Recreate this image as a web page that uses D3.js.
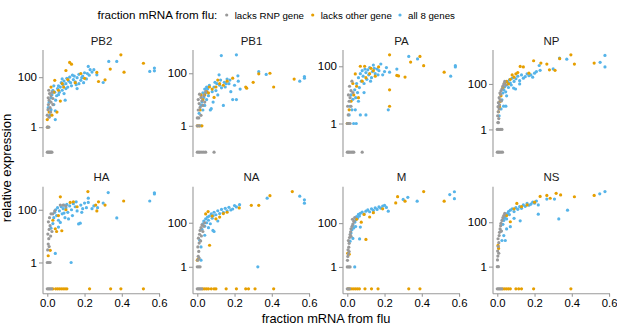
<!DOCTYPE html>
<html><head><meta charset="utf-8">
<script src="https://cdn.jsdelivr.net/npm/d3@7"></script>
<style>body{margin:0;background:#fff}svg{display:block;font-family:"Liberation Sans",Arial,sans-serif}</style>
</head><body><svg id="c" width="617" height="324"></svg>
<script>
const genes = ["PB2","PB1","PA","NP","HA","NA","M","NS"];
const groups = ["lacks RNP gene","lacks other gene","all 8 genes"];
const xTicks = [0.0,0.2,0.4,0.6];
const yTicks = [1,100];

// PB2
const pb2R=[[0,0.1],[0.005,0.1],[0.01,0.1],[0.015,0.1],[0.02,0.1],[0.025,0.1],[0,1],[0.008,1],[0,3],[0.004,5],[0.01,2.5],[0.006,8],[0.015,6],[0.01,12],[0.02,10],[0.005,15],[0.02,18],[0.012,22],[0.025,25],[0.03,8],[0.018,4],[0.008,30],[0.03,14]];
const pb2O=[[0,2],[0.002,1],[0.01,4],[0.025,3],[0.052,4],[0.07,11],[0.088,40],[0.04,75],[0.1,185],[0.12,390],[0.13,330],[0.06,30],[0.08,55],[0.15,60],[0.266,155],[0.275,67],[0.31,78],[0.338,210],[0.395,780],[0.412,158],[0.516,360],[0.02,40],[0.035,25],[0.11,80],[0.18,140],[0.2,90]];
const pb2A=[[0.005,6],[0.01,10],[0.015,3],[0.02,15],[0.025,20],[0.03,30],[0.035,8],[0.04,25],[0.043,2],[0.043,4.5],[0.05,18],[0.055,35],[0.06,45],[0.07,40],[0.075,60],[0.08,30],[0.085,50],[0.09,70],[0.096,12],[0.1,55],[0.105,90],[0.11,40],[0.115,70],[0.12,100],[0.125,60],[0.13,45],[0.14,80],[0.145,110],[0.15,65],[0.16,95],[0.17,130],[0.18,75],[0.19,110],[0.2,150],[0.21,85],[0.22,270],[0.225,120],[0.23,200],[0.24,160],[0.25,200],[0.266,124],[0.3,61],[0.33,425],[0.373,425],[0.55,170],[0.575,230],[0.575,180],[0.06,20],[0.045,12],[0.035,45],[0.065,25],[0.02,5],[0.09,22],[0.17,55],[0.16,35],[0.08,85],[0.1,35],[0.135,120],[0.155,50],[0.185,95],[0.195,60],[0.215,140]];
// PB1
const pb1R=[[0,0.1],[0.008,0.1],[0.015,0.1],[0.025,0.1],[0.035,0.1],[0.045,0.1],[0.09,0.1],[0,1],[0.01,1],[0,2],[0.008,2],[0.02,2.5],[0.005,4],[0.015,5],[0.01,7],[0.025,9],[0.03,6],[0.02,12],[0.005,10],[0.035,14],[0.04,8],[0.012,16],[0.045,20]];
const pb1O=[[0,1],[0.01,1],[0.025,1],[0.015,4],[0.03,10],[0.04,15],[0.05,20],[0.06,18],[0.065,30],[0.08,25],[0.1,30],[0.12,40],[0.14,35],[0.19,65],[0.26,30],[0.265,27],[0.3,45],[0.33,95],[0.39,100],[0.41,30],[0.52,60],[0.02,15],[0.09,12],[0.16,50],[0.11,55]];
const pb1A=[[0.01,3],[0.02,6],[0.02,1],[0.025,8],[0.03,4],[0.035,12],[0.04,6],[0.045,18],[0.05,10],[0.055,25],[0.06,14],[0.07,4],[0.075,4.5],[0.08,20],[0.085,8],[0.09,30],[0.1,22],[0.105,40],[0.11,15],[0.117,87],[0.12,35],[0.129,470],[0.13,28],[0.14,6],[0.145,45],[0.15,30],[0.16,60],[0.17,40],[0.18,20],[0.19,10],[0.2,35],[0.21,500],[0.21,10],[0.218,80],[0.22,50],[0.23,25],[0.33,115],[0.37,90],[0.55,50],[0.575,75],[0.575,65],[0.065,35],[0.04,25],[0.095,45],[0.125,55],[0.155,40],[0.175,55],[0.03,18],[0.05,30]];
// PA
const paR=[[0,0.1],[0.006,0.1],[0.012,0.1],[0.02,0.1],[0.028,0.1],[0.035,0.1],[0.08,0.1],[0,1],[0.008,1],[0.015,1],[0.005,2],[0.002,4],[0.01,6],[0.006,10],[0.015,8],[0.02,14],[0.012,20],[0.025,30],[0.03,12],[0.02,4]];
const paO=[[0,1],[0.005,1],[0.01,3],[0.02,6],[0.035,10],[0.043,54],[0.07,100],[0.093,100],[0.127,85],[0.168,95],[0.227,250],[0.05,20],[0.06,8],[0.08,30],[0.1,40],[0.12,55],[0.15,45],[0.227,15],[0.227,4],[0.266,48],[0.275,46],[0.31,42],[0.34,140],[0.39,220],[0.41,105],[0.52,62],[0.03,25],[0.14,70]];
const paA=[[0.01,2],[0.015,4],[0.02,10],[0.025,3],[0.03,7],[0.034,1],[0.04,15],[0.043,3],[0.048,1],[0.05,25],[0.055,12],[0.06,40],[0.065,18],[0.07,2],[0.07,55],[0.075,30],[0.08,70],[0.085,45],[0.09,25],[0.1,2],[0.1,60],[0.105,35],[0.11,75],[0.115,50],[0.12,90],[0.13,40],[0.135,65],[0.14,110],[0.15,55],[0.16,80],[0.17,70],[0.18,120],[0.19,50],[0.2,65],[0.21,90],[0.22,3],[0.227,62],[0.266,80],[0.33,220],[0.377,180],[0.555,45],[0.58,105],[0.58,95],[0.06,6],[0.09,12],[0.095,80],[0.125,30],[0.145,85],[0.165,50],[0.045,8]];
// NP
const npR=[[0,0.1],[0.006,0.1],[0.012,0.1],[0.02,0.1],[0.028,0.1],[0,1],[0.008,1],[0.016,1],[0.025,1],[0.003,2],[0.006,2],[0.002,4],[0.005,6],[0.008,3],[0.01,8],[0.004,10],[0.012,12],[0.006,15],[0.015,20],[0.01,25],[0.018,35],[0.02,50],[0.025,60],[0.03,80],[0.035,100],[0.022,18],[0.014,40],[0.04,130],[0.045,90]];
const npO=[[0.006,6],[0.012,10],[0.015,17],[0.02,30],[0.03,70],[0.04,110],[0.05,130],[0.07,160],[0.09,200],[0.1,280],[0.123,590],[0.14,560],[0.17,300],[0.195,1050],[0.234,830],[0.266,750],[0.28,420],[0.31,400],[0.335,1300],[0.395,1910],[0.414,750],[0.52,830],[0.06,100],[0.08,250],[0.11,320]];
const npA=[[0.01,4],[0.02,8],[0.034,10.5],[0.046,10.5],[0.025,20],[0.03,40],[0.035,55],[0.04,75],[0.045,45],[0.05,90],[0.055,120],[0.06,70],[0.065,150],[0.07,110],[0.08,180],[0.0875,66],[0.09,130],[0.098,60],[0.1,170],[0.11,220],[0.12,140],[0.13,250],[0.14,180],[0.15,210],[0.16,280],[0.17,230],[0.18,250],[0.19,200],[0.2,300],[0.21,350],[0.225,650],[0.23,400],[0.3,460],[0.334,1380],[0.373,1240],[0.552,900],[0.578,1800],[0.578,560],[0.075,90],[0.12,100],[0.05,30]];
// HA
const haR=[[0,0.1],[0.006,0.1],[0.012,0.1],[0.018,0.1],[0.024,0.1],[0,1],[0.008,1],[0.015,1],[0.002,3],[0.005,5],[0.008,8],[0.003,12],[0.01,18],[0.015,25],[0.006,35],[0.012,50],[0.02,70],[0.03,70],[0.025,15],[0.018,10],[0.01,4],[0.07,150],[0.085,150],[0.1,140],[0.04,90]];
const haO=[[0.03,0.1],[0.045,0.1],[0.055,0.1],[0.065,0.1],[0.075,0.1],[0.085,0.1],[0.095,0.1],[0.105,0.1],[0.227,0.1],[0.34,0.1],[0.395,0.1],[0.516,0.1],[0.016,2.9],[0.005,1.8],[0.043,19],[0.05,15],[0.07,310],[0.078,16],[0.123,190],[0.14,200],[0.218,490],[0.26,150],[0.266,90],[0.275,200],[0.31,150],[0.41,215],[0.06,60],[0.1,100],[0.16,130],[0.03,40]];
const haA=[[0.043,2.2],[0.128,1],[0.02,20],[0.03,30],[0.035,50],[0.04,80],[0.045,100],[0.05,60],[0.055,120],[0.06,40],[0.065,90],[0.07,33],[0.075,130],[0.08,70],[0.085,110],[0.09,150],[0.095,50],[0.1,120],[0.105,160],[0.11,80],[0.114,45],[0.12,140],[0.13,100],[0.14,170],[0.15,130],[0.16,90],[0.168,29],[0.177,31],[0.18,150],[0.19,110],[0.2,180],[0.21,120],[0.22,275],[0.22,190],[0.24,110],[0.25,140],[0.27,120],[0.3,180],[0.327,450],[0.373,49],[0.55,215],[0.575,440],[0.575,400],[0.06,22],[0.09,75],[0.135,60],[0.155,200],[0.185,80]];
// NA
const naR=[[0,0.1],[0.006,0.1],[0.012,0.1],[0.018,0.1],[0.024,0.1],[0,1],[0.008,1],[0.015,1],[0.002,2],[0.005,3],[0.008,5],[0.003,8],[0.01,12],[0.006,20],[0.012,30],[0.015,45],[0.02,60],[0.025,80],[0.03,40],[0.018,15],[0.022,25],[0.01,2.5],[0.04,100],[0.035,70]];
const naO=[[0.03,0.1],[0.04,0.1],[0.05,0.1],[0.06,0.1],[0.075,0.1],[0.09,0.1],[0.1,0.1],[0.155,0.1],[0.21,0.1],[0.26,0.1],[0.275,0.1],[0.31,0.1],[0.41,0.1],[0,2],[0.004,2.2],[0.066,9.5],[0.045,250],[0.058,320],[0.08,200],[0.12,180],[0.14,260],[0.225,470],[0.29,620],[0.33,620],[0.39,1700],[0.51,2600],[0.1,150],[0.16,300]];
const naA=[[0.02,2],[0.325,1],[0.013,16],[0.02,8],[0.04,27],[0.084,45],[0.09,40],[0.025,50],[0.03,90],[0.035,120],[0.04,70],[0.045,150],[0.05,100],[0.055,180],[0.06,130],[0.065,200],[0.07,90],[0.075,250],[0.08,160],[0.085,210],[0.09,300],[0.1,230],[0.11,350],[0.12,260],[0.13,400],[0.14,300],[0.15,450],[0.16,350],[0.17,500],[0.18,380],[0.19,420],[0.2,600],[0.21,520],[0.227,660],[0.375,1300],[0.55,1600],[0.575,1100],[0.575,770],[0.06,60],[0.11,120]];
// M
const mR=[[0,0.1],[0.006,0.1],[0.012,0.1],[0,1],[0.008,1],[0.015,1],[0.001,2],[0.003,3],[0.006,4],[0.004,6],[0.008,8],[0.01,12],[0.006,16],[0.012,22],[0.015,30],[0.018,40],[0.02,55],[0.025,70],[0.03,90],[0.035,120],[0.02,25],[0.01,5],[0.028,150],[0.04,180]];
const mO=[[0.004,0.1],[0.015,0.1],[0.025,0.1],[0.035,0.1],[0.045,0.1],[0.055,0.1],[0.065,0.1],[0.095,0.1],[0.13,0.1],[0.165,0.1],[0.33,0.1],[0.39,0.1],[0.002,4.2],[0.01,3.8],[0.1,18],[0.075,110],[0.12,190],[0.19,450],[0.26,830],[0.27,1600],[0.31,1000],[0.41,2750],[0.52,1000],[0.05,150],[0.09,250],[0.14,300]];
const mA=[[0.04,1],[0.066,19],[0.07,66],[0.015,15],[0.02,35],[0.025,50],[0.03,80],[0.035,60],[0.04,110],[0.045,140],[0.05,200],[0.055,170],[0.06,250],[0.065,210],[0.07,280],[0.08,320],[0.09,260],[0.1,350],[0.11,400],[0.12,330],[0.13,450],[0.14,380],[0.15,500],[0.16,420],[0.17,550],[0.18,480],[0.19,600],[0.2,650],[0.21,520],[0.22,350],[0.3,1200],[0.325,1500],[0.375,1000],[0.55,2000],[0.575,2700],[0.575,1300],[0.03,20],[0.045,70]];
// NS
const nsR=[[0,0.1],[0.006,0.1],[0.012,0.1],[0.018,0.1],[0.024,0.1],[0,1],[0.006,1],[0.001,2],[0.003,3],[0.002,5],[0.005,8],[0.008,12],[0.004,18],[0.01,25],[0.012,35],[0.015,50],[0.018,70],[0.02,90],[0.025,120],[0.03,160],[0.035,200],[0.022,40],[0.008,4],[0.04,250]];
const nsO=[[0.03,0.1],[0.04,0.1],[0.05,0.1],[0.06,0.1],[0.07,0.1],[0.1,0.1],[0.115,0.1],[0.13,0.1],[0.195,0.1],[0.395,0.1],[0.007,6.6],[0.004,9],[0.07,105],[0.105,700],[0.13,500],[0.09,400],[0.23,1450],[0.266,1600],[0.284,1200],[0.316,2000],[0.34,1700],[0.414,1400],[0.52,1600],[0.05,200],[0.16,600],[0.2,800]];
const nsA=[[0.025,15],[0.043,15],[0.035,25],[0.07,63],[0.123,115],[0.22,230],[0.33,140],[0.377,350],[0.02,40],[0.03,80],[0.035,120],[0.04,160],[0.045,200],[0.05,140],[0.055,250],[0.06,300],[0.065,220],[0.07,350],[0.08,400],[0.09,300],[0.1,450],[0.11,380],[0.12,500],[0.13,420],[0.14,600],[0.15,520],[0.16,700],[0.17,580],[0.18,650],[0.19,800],[0.2,720],[0.21,900],[0.22,600],[0.266,1100],[0.307,1100],[0.55,1900],[0.578,2400],[0.05,50],[0.09,150]];

const panelData = [[pb2R,pb2O,pb2A],[pb1R,pb1O,pb1A],[paR,paO,paA],[npR,npO,npA],[haR,haO,haA],[naR,naO,naA],[mR,mO,mA],[nsR,nsO,nsA]];

const svg = d3.select("#c");
const color = d3.scaleOrdinal().domain(groups).range(["#999999","#E69F00","#56B4E9"]);
const axisCol = "#9a9a9a";
const pw = 117, ph = 107;
const colX = d3.scaleLinear().domain([0,1]).range([43,193]);
const rowY = d3.scaleLinear().domain([0,1]).range([50,186.7]);
const x = d3.scaleLinear().domain([-0.023,0.605]).range([0,pw]);

genes.forEach((g,i)=>{
  const c = i%4, r = Math.floor(i/4);
  const gx = colX(c), gy = rowY(r);
  const sets = panelData[i];
  const all = sets.flat();
  const lo = Math.log10(d3.min(all,d=>d[1])), hi = Math.log10(d3.max(all,d=>d[1]));
  const pad = 0.05*(hi-lo);
  const y = d3.scaleLog().domain([Math.pow(10,lo-pad),Math.pow(10,hi+pad)]).range([ph,0]);
  const p = svg.append("g").attr("transform",`translate(${gx},${gy})`);
  p.append("text").attr("x",pw/2).attr("y",-5.5).attr("text-anchor","middle")
    .attr("font-size",11.5).attr("fill","#1a1a1a").text(g);
  [2,1,0].forEach(k=>{
    p.append("g").selectAll("circle").data(sets[k]).join("circle")
      .attr("cx",d=>x(d[0])).attr("cy",d=>y(d[1])).attr("r",1.6)
      .attr("fill",color(groups[k]));
  });
  const ya = p.append("g").call(d3.axisLeft(y).tickValues(yTicks).tickSize(4).tickPadding(2).tickFormat(d3.format("d")));
  ya.select(".domain").attr("d",`M0,0V${ph}`).attr("stroke",axisCol).attr("stroke-width",1.1);
  ya.selectAll(".tick line").attr("stroke",axisCol).attr("stroke-width",1.1);
  ya.selectAll(".tick text").attr("font-size",11.5).attr("fill","#000").attr("font-family","Liberation Sans, Arial, sans-serif");
  if(r===1){
    const xa = p.append("g").attr("transform",`translate(0,${ph})`)
      .call(d3.axisBottom(x).tickValues(xTicks).tickSize(3).tickPadding(2.5).tickFormat(d3.format(".1f")));
    xa.select(".domain").attr("d",`M0,0H${pw}`).attr("stroke",axisCol).attr("stroke-width",1.1);
    xa.selectAll(".tick line").attr("stroke",axisCol).attr("stroke-width",1.1);
    xa.selectAll(".tick text").attr("font-size",11.3).attr("fill","#000").attr("font-family","Liberation Sans, Arial, sans-serif");
  }
});

svg.append("text").attr("x",326).attr("y",322.5).attr("text-anchor","middle").attr("font-size",12.8).text("fraction mRNA from flu");
svg.append("text").attr("transform","translate(11,168) rotate(-90)").attr("text-anchor","middle").attr("font-size",13).text("relative expression");

const lg = svg.append("g");
lg.append("text").attr("x",97.5).attr("y",19).attr("font-size",11.6).text("fraction mRNA from flu:");
const lx = [226.7,312.7,400];
groups.forEach((gname,k)=>{
  lg.append("circle").attr("cx",lx[k]).attr("cy",15).attr("r",1.6).attr("fill",color(gname));
  lg.append("text").attr("x",lx[k]+8).attr("y",18.5).attr("font-size",9.7).text(gname);
});
</script></body></html>
